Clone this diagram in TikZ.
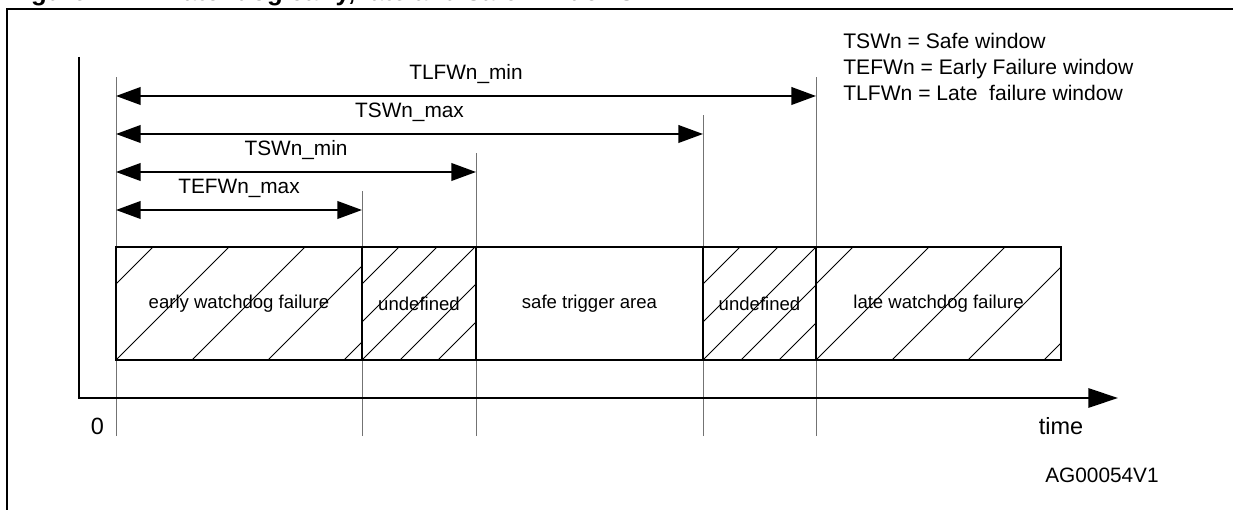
\documentclass[tikz,border=0pt]{standalone}
\usepackage{fontspec}
\setmainfont{Liberation Sans}
\usetikzlibrary{arrows.meta,positioning}
\newdimen\px \px=0.025cm

\begin{document}
\begin{tikzpicture}[x=0.025cm, y=-0.025cm, every node/.style={font=\fontsize{14.8}{17}\selectfont}, frame/.style={line width=1.6pt}, axis/.style={line width=2.1pt, >={Triangle[length=21pt,width=13.5pt]}, ->}, tick/.style={line width=0.6pt, black!55}, dim/.style={line width=1.4pt, >={Triangle[length=17.5pt,width=12.5pt]}, <->}, dimlabel/.style={above=7pt, inner sep=1pt}, region/.style={draw, line width=1.3pt, minimum height=113\px, inner sep=0pt, outer sep=0pt, font=\fontsize{13.2}{15}\selectfont}, hatch/.style={line width=0.6pt}, legend/.style={anchor=base west, inner sep=0pt, font=\fontsize{15}{18}\selectfont}]
\useasboundingbox (0,0) rectangle (1233,510);
\node[anchor=base west, inner sep=0pt, font=\bfseries\fontsize{18.3}{22}\selectfont] (title) at (8,0.5) {Figure 11.\hspace{1.2em}Watchdog early, late and safe windows};
\coordinate (frameBL) at (7,515);
\coordinate (frameTL) at (7,9);
\coordinate (frameTR) at (1240,9);
\draw[frame] (frameBL) -- (frameTL) -- (frameTR);
\foreach \n/\x/\top in {0/116/77, 1/362/191, 2/476/153, 3/703/115, 4/816/77} {
  \coordinate (t\n) at (\x,436);
  \coordinate (t\n-top) at (\x,\top);
  \draw[tick] (t\n) -- (t\n-top);
}
\coordinate (ytop) at (79,57);
\coordinate (orig) at (79,398);
\coordinate (xend) at (1118,398);
\draw[axis] (ytop) -- (orig) -- (xend);
\coordinate (rowLF) at (0,96);
\coordinate (rowSWmax) at (0,134);
\coordinate (rowSWmin) at (0,172);
\coordinate (rowEF) at (0,210);
\draw[dim] (t0 |- rowLF) -- (t4 |- rowLF) node[dimlabel, midway] (lblLF) {TLFWn\_min};
\draw[dim] (t0 |- rowSWmax) -- (t3 |- rowSWmax) node[dimlabel, midway] (lblSWmax) {TSWn\_max};
\draw[dim] (t0 |- rowSWmin) -- (t2 |- rowSWmin) node[dimlabel, midway] (lblSWmin) {TSWn\_min};
\draw[dim] (t0 |- rowEF) -- (t1 |- rowEF) node[dimlabel, midway] (lblEF) {TEFWn\_max};
\node[region, minimum width=246\px] (early) at (239,303.5) {early watchdog failure};
\node[region, minimum width=114\px, right=0pt of early] (undefa) {undefined};
\node[region, minimum width=227\px, right=0pt of undefa] (safe) {safe trigger area};
\node[region, minimum width=113\px, right=0pt of safe] (undefb) {undefined};
\node[region, minimum width=245\px, right=0pt of undefb] (late) {late watchdog failure};
\foreach \reg/\gap in {early/76, undefa/38, undefb/38, late/76} {
  \begin{scope}
    \clip (\reg.south west) rectangle (\reg.north east);
    \foreach \k in {-3,...,4}
      \draw[hatch, shift={(\reg.south west)}] (\k*\gap,0) -- ++(120,-120);
  \end{scope}
}
\node[anchor=base, font=\fontsize{16.7}{20}\selectfont] (zero) at (97.5,434) {0};
\node[anchor=base, font=\fontsize{16.7}{20}\selectfont] (time) at (1061,434) {time};
\node[anchor=base west, inner sep=0pt] (tag) at (1045,482) {AG00054V1};
\node[legend] (legsw) at (843,49) {TSWn = Safe window};
\node[legend] (legefw) at (843,75) {TEFWn = Early Failure window};
\node[legend] (leglfw) at (843,101) {TLFWn = Late\ \ failure window};
\end{tikzpicture}
\end{document}
